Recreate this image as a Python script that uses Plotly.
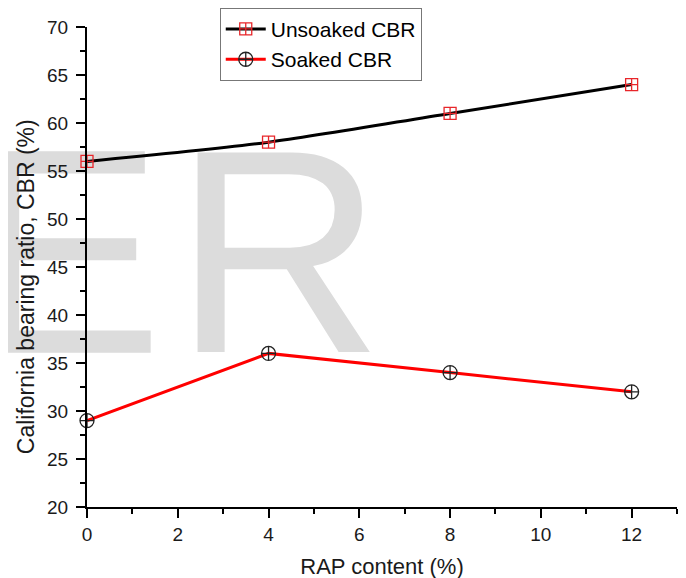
import plotly.graph_objects as go

rap_content = [0, 4, 8, 12]
unsoaked_cbr = [56, 58, 61, 64]
soaked_cbr = [29, 36, 34, 32]

x_ticks = [0, 2, 4, 6, 8, 10, 12]
y_ticks = [20, 25, 30, 35, 40, 45, 50, 55, 60, 65, 70]

FONT = "Liberation Sans, Arial, sans-serif"

fig = go.Figure()

# watermark letters (behind the data)
fig.add_trace(go.Scatter(
    x=[1.68], y=[43.7], mode="text", text=["E"],
    textposition="middle left",
    textfont=dict(family=FONT, size=293, color="#dcdcdc"),
    cliponaxis=False, showlegend=False, hoverinfo="skip",
))
fig.add_trace(go.Scatter(
    x=[4.22], y=[43.7], mode="text", text=["R"],
    textposition="middle center",
    textfont=dict(family=FONT, size=290, color="#dcdcdc"),
    cliponaxis=False, showlegend=False, hoverinfo="skip",
))

fig.add_trace(go.Scatter(
    x=rap_content, y=unsoaked_cbr, name="Unsoaked CBR",
    mode="lines+markers",
    line=dict(color="black", width=3, shape="spline", smoothing=0.8),
    marker=dict(symbol="square-cross-open", size=12, color="#e8262a",
                line=dict(width=1.3)),
    cliponaxis=False,
))
fig.add_trace(go.Scatter(
    x=rap_content, y=soaked_cbr, name="Soaked CBR",
    mode="lines+markers",
    line=dict(color="#ff0000", width=3),
    marker=dict(symbol="circle-cross-open", size=14, color="#222222",
                line=dict(width=1.3)),
    cliponaxis=False,
))

# the page body adds an 8px offset; margins compensate so the plot lands where the reference has it
fig.update_layout(
    width=686, height=578,
    margin=dict(l=79, r=17, t=19, b=79, autoexpand=False),
    paper_bgcolor="white", plot_bgcolor="rgba(0,0,0,0)",
    font=dict(family=FONT, size=19, color="#1a1a1a"),
    legend=dict(
        x=0.225, y=1.04, xanchor="left", yanchor="top",
        bgcolor="white", bordercolor="#777777", borderwidth=1,
        font=dict(family=FONT, size=21, color="black"),
        tracegroupgap=0, itemwidth=40,
    ),
    annotations=[dict(
        text="California bearing ratio, CBR (%)",
        xref="paper", yref="paper", x=-0.1034, y=0.46,
        xanchor="center", yanchor="middle", textangle=-90,
        showarrow=False, font=dict(family=FONT, size=23, color="#1a1a1a"),
    )],
)

fig.update_xaxes(
    range=[0, 13], tickvals=x_ticks, ticktext=[str(v) for v in x_ticks],
    showgrid=False, zeroline=False, automargin=False,
    showline=True, linecolor="black", linewidth=2,
    ticks="outside", ticklen=9, tickwidth=2, tickcolor="black",
    minor=dict(dtick=1, tick0=0, ticks="outside", ticklen=5, tickwidth=2, tickcolor="black", showgrid=False),
    title=dict(text="RAP content (%)", font=dict(size=22, family=FONT)),
    tickfont=dict(size=19),
)
fig.update_yaxes(
    range=[20, 70], tickvals=y_ticks, ticktext=[str(v) for v in y_ticks],
    showgrid=False, zeroline=False, automargin=False,
    showline=True, linecolor="black", linewidth=2,
    ticks="outside", ticklen=9, tickwidth=2, tickcolor="black",
    minor=dict(dtick=2.5, tick0=20, ticks="outside", ticklen=5, tickwidth=2, tickcolor="black", showgrid=False),
    tickfont=dict(size=19),
    ticklabelstandoff=4,
)

fig.write_html("out.html")
